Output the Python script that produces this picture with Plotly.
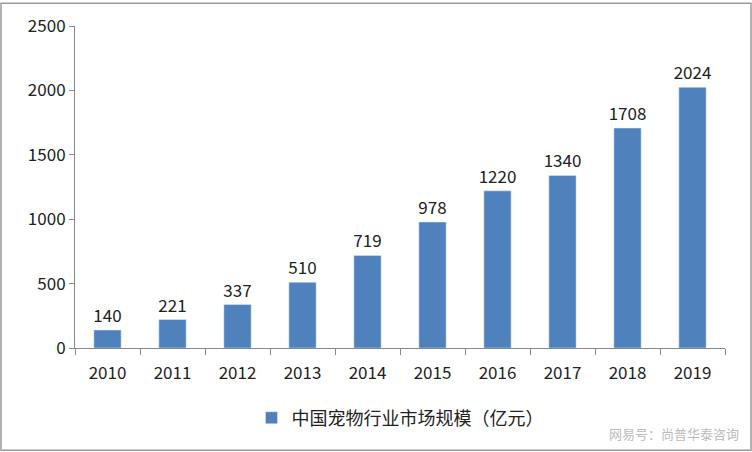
import plotly.graph_objects as go

years = ["2010","2011","2012","2013","2014","2015","2016","2017","2018","2019"]
values = [140,221,337,510,719,978,1220,1340,1708,2024]
series_name = "中国宠物行业市场规模（亿元）"

W, H, L, R, T, B = 752, 452, 75, 27, 24, 104
pw, ph = W - L - R, H - T - B

fig = go.Figure(go.Bar(x=years, y=values, name=series_name, marker_color="#4F81BD",
                       width=0.42, text=[str(v) for v in values], textposition="outside",
                       constraintext="none",
                       textfont=dict(size=17, color="#222"), cliponaxis=False))
fig.update_layout(
    width=W, height=H, paper_bgcolor="white", plot_bgcolor="white",
    margin=dict(l=L, r=R, t=T, b=B),
    font=dict(family="Noto Sans CJK SC, DejaVu Sans", size=16, color="#222"),
    showlegend=True,
    legend=dict(orientation="h", x=0.5, xanchor="center", y=-0.16, yanchor="top",
                bgcolor="rgba(0,0,0,0)", font=dict(size=18), itemwidth=30),
    xaxis=dict(showline=True, linecolor="#888", ticks="outside", tickcolor="#888",
               ticklen=6, tickson="boundaries", tickfont=dict(size=17), ticklabelstandoff=10),
    yaxis=dict(range=[0,2500], dtick=500, showgrid=False, showline=True, linecolor="#888",
               ticks="outside", tickcolor="#888", ticklen=5, tickfont=dict(size=17)),
    shapes=[dict(type="rect", xref="paper", yref="paper",
                 x0=-(L - 1) / pw, x1=1 + (R - 1) / pw, y0=-(B - 1) / ph, y1=1 + (T - 1) / ph,
                 line=dict(color="#999", width=1.5))],
    annotations=[dict(text="网易号：尚普华泰咨询", xref="paper", yref="paper", x=1.025, y=-0.265,
                      xanchor="right", yanchor="middle", showarrow=False,
                      font=dict(size=13, color="#bbb"))],
)
fig.write_html("out.html", config={"displayModeBar": False})
with open("out.html", encoding="utf-8") as f:
    html = f.read()
html = html.replace("<head>", "<head><style>html,body{margin:0;padding:0;overflow:hidden}</style>", 1)
with open("out.html", "w", encoding="utf-8") as f:
    f.write(html)
